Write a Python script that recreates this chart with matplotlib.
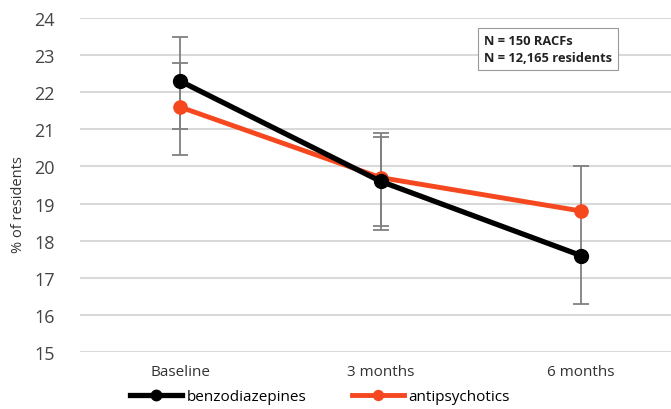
import numpy as np
import matplotlib.pyplot as plt

plt.rcParams['font.family'] = ['Open Sans', 'DejaVu Sans']

timepoints = ['Baseline', '3 months', '6 months']
benzo = [22.3, 19.6, 17.6]
antipsych = [21.6, 19.7, 18.8]
# error bar ends
benzo_low = [21.0, 18.3, 16.3]
benzo_high = [23.5, 20.9, 20.0]
anti_low = [20.3, 18.4, np.nan]
anti_high = [22.8, 20.8, np.nan]

black = '#000000'
orange = '#f5481f'
grey_err = '#808080'

fig = plt.figure(figsize=(6.71, 4.10), dpi=100)
ax = fig.add_axes([80 / 671, 57 / 410, 1 - 80 / 671, (353 - 19) / 410])

x = np.arange(len(timepoints))

b = np.array(benzo)
a = np.array(antipsych)
ax.errorbar(x, b, yerr=[b - np.array(benzo_low), np.array(benzo_high) - b],
            fmt='none', ecolor=grey_err, elinewidth=1.3, capsize=5.5, capthick=1.3, zorder=2)
ax.errorbar(x, a, yerr=[a - np.array(anti_low), np.array(anti_high) - a],
            fmt='none', ecolor=grey_err, elinewidth=1.3, capsize=5.5, capthick=1.3, zorder=2)

ax.plot(x, antipsych, color=orange, lw=3.5, marker='o', ms=9.5, label='antipsychotics', zorder=3)
ax.plot(x, benzo, color=black, lw=3.8, marker='o', ms=10, label='benzodiazepines', zorder=4)

ax.set_ylim(15, 24)
ax.set_yticks(range(15, 25))
ax.set_xlim(-0.5, 2.45)
ax.set_xticks(x)
ax.set_xticklabels(timepoints, fontsize=11, color='#333333')
ax.tick_params(axis='y', labelsize=13, colors='#444444', length=0, pad=18)
ax.tick_params(axis='x', length=0, pad=9)
ax.yaxis.grid(True, color='#d9d9d9', lw=1.5)
ax.set_axisbelow(True)
for s in ax.spines.values():
    s.set_visible(False)

fig.text(19 / 671, 1 - 205 / 410, '% of residents', rotation=90, fontsize=10.5,
         color='#333333', ha='center', va='center')

fig.text(484 / 671, 1 - 35 / 410, 'N = 150 RACFs\nN = 12,165 residents',
         fontsize=9.3, fontweight='bold', color='#222222', va='top', ha='left',
         linespacing=1.35,
         bbox=dict(boxstyle='square,pad=0.5', fc='white', ec='#999999', lw=0.8))

h, l = ax.get_legend_handles_labels()
fig.legend(h[::-1], l[::-1], loc='center left', bbox_to_anchor=(124 / 671, 1 - 398 / 410),
           ncol=2, frameon=False, fontsize=11, handlelength=3.4, columnspacing=3.0,
           handletextpad=0.3, borderaxespad=0, markerscale=0.75)

fig.savefig('out.png', dpi=100)
